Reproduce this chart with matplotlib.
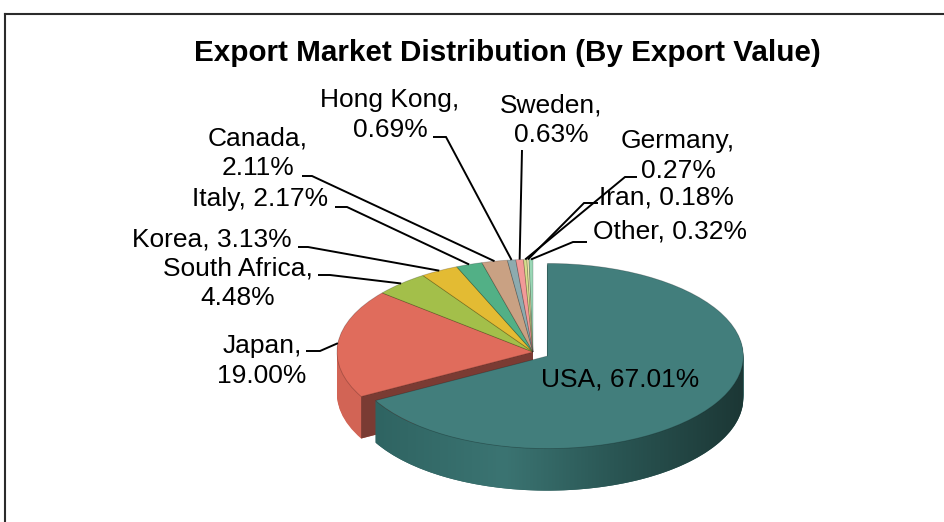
import numpy as np
import matplotlib
matplotlib.use('Agg')
import matplotlib.pyplot as plt
from matplotlib.patches import Polygon
from matplotlib.lines import Line2D
from matplotlib.colors import LinearSegmentedColormap

# ---------------- data ----------------
categories = ['USA', 'Japan', 'South Africa', 'Korea', 'Italy', 'Canada',
              'Hong Kong', 'Sweden', 'Germany', 'Iran', 'Other']
shares = [67.01, 19.00, 4.48, 3.13, 2.17, 2.11, 0.69, 0.63, 0.27, 0.18, 0.32]
two_line = [False, True, True, False, False, True, True, True, True, False, False]
title = 'Export Market Distribution (By Export Value)'

# ---------------- style / layout ----------------
top_colors = ['#427E7C', '#E06C5C', '#A3BF4A', '#E3BB33', '#52B086', '#C9A183',
              '#8DABAF', '#F29A98', '#D7DE8C', '#EFE6B0', '#9AD7B6']
side_colors = ['#2E5C5A', '#D26455', '#6B7D2E', '#9A7E1F', '#347556', '#86695A',
               '#5E7477', '#A86664', '#8F9459', '#A09A75', '#669078']
explode = [0.085, 0, 0, 0, 0, 0, 0, 0, 0, 0, 0]

W, H = 944, 522
CX, CY = 533.0, 352.0      # pixel position of the pie centre
RX, RY = 196.0, 92.6       # pixel radii of the (tilted) pie
DEPTH = 42                 # pixel thickness

# label centres (pixels), leader start & elbow (pixels)
label_pos = [(620, 379), (262, 361), (238, 283), (212, 240), (260, 199), (258, 153),
             (390, 115), (551, 120), (678, 156), (666, 197), (670, 231)]
leader = [None,
          ((306, 351), (320, 351)),
          ((318, 275), (330, 275)),
          ((298, 247), (308, 247)),
          ((335, 207), (347, 207)),
          ((302, 176), (312, 176)),
          ((433, 137), (446, 137)),
          ((522, 150), (522, 150)),
          ((637, 177), (625, 177)),
          ((598, 203), (584, 203)),
          ((587, 242), (573, 242))]


def px(x, y):
    return (x - CX) / RX, (CY - y) / RY


fig = plt.figure(figsize=(W / 100, H / 100), dpi=100)
ax = fig.add_axes([0, 0, 1, 1])

depth = DEPTH / RY
# side walls: stacked layers from the bottom up
for k in range(DEPTH, 0, -1):
    off = k * depth / DEPTH
    ax.pie(shares, explode=explode, startangle=90, counterclock=False,
           colors=side_colors, center=(0, -off), radius=1,
           wedgeprops=dict(linewidth=0, zorder=1))

# top faces
wedges, _ = ax.pie(shares, explode=explode, startangle=90, counterclock=False,
                   colors=top_colors, radius=1,
                   wedgeprops=dict(linewidth=0.6, edgecolor=(0, 0, 0, 0.22), zorder=4))

# Japan cut face (visible radial face facing the viewer)
wj = wedges[1]
t = np.deg2rad(wj.theta2)
cx, cy = wj.center
ex, ey = cx + wj.r * np.cos(t), cy + wj.r * np.sin(t)
ax.add_patch(Polygon([(cx, cy), (ex, ey), (ex, ey - depth), (cx, cy - depth)],
                     closed=True, facecolor='#7A3B33', edgecolor='none', zorder=2))

# USA outer wall with horizontal shading
wu = wedges[0]
ux, uy = wu.center
tt = np.deg2rad(np.linspace(wu.theta1, 0, 200))
top_arc = np.column_stack([ux + np.cos(tt), uy + np.sin(tt)])
bot_arc = np.column_stack([ux + np.cos(tt[::-1]), uy + np.sin(tt[::-1]) - depth])
wall = Polygon(np.vstack([top_arc, bot_arc]), closed=True, facecolor='none',
               edgecolor='none', zorder=3)
ax.add_patch(wall)
cmap = LinearSegmentedColormap.from_list(
    'wall', [(0, '#2F6462'), (0.35, '#3B7472'), (0.65, '#2A5654'), (1, '#1C3735')])
grad = np.linspace(0, 1, 256)[None, :]
x0 = ux + np.cos(np.deg2rad(wu.theta1))
im = ax.imshow(grad, extent=[x0, ux + 1, uy - 1 - depth - 0.1, uy + 0.2],
               aspect='auto', cmap=cmap, zorder=3, interpolation='bilinear')
im.set_clip_path(wall)

# labels and leader lines
font = 'Liberation Sans'
for i, (cat, val) in enumerate(zip(categories, shares)):
    sep = ',\n' if two_line[i] else ', '
    lx, ly = px(*label_pos[i])
    ax.text(lx, ly, f'{cat}{sep}{val:.2f}%', ha='center', va='center',
            multialignment='center', fontsize=19, family=font,
            linespacing=1.3, zorder=6, color='black')
    if leader[i] is not None:
        w = wedges[i]
        mid = np.deg2rad((w.theta1 + w.theta2) / 2)
        axx = w.center[0] + w.r * np.cos(mid)
        ayy = w.center[1] + w.r * np.sin(mid)
        (sx, sy), (bx, by) = leader[i]
        s = px(sx, sy)
        b = px(bx, by)
        ax.plot([s[0], b[0], axx], [s[1], b[1], ayy], color='black', lw=1.4,
                zorder=5, solid_joinstyle='miter', solid_capstyle='butt')

ax.set_aspect('auto')
ax.set_xlim(-CX / RX, (W - CX) / RX)
ax.set_ylim(-(H - CY) / RY, CY / RY)
ax.axis('off')

fig.text(507 / W, 1 - 53 / H, title, ha='center', va='center', fontsize=21.3,
         fontweight='bold', family=font)

# chart frame (top and left edges)
fig.add_artist(Line2D([5 / W, 1], [1 - 14 / H, 1 - 14 / H], transform=fig.transFigure,
                      color='#2b2b2b', lw=1.5))
fig.add_artist(Line2D([5 / W, 5 / W], [0, 1 - 14 / H], transform=fig.transFigure,
                      color='#2b2b2b', lw=1.5))

fig.savefig('out.png', dpi=100)
